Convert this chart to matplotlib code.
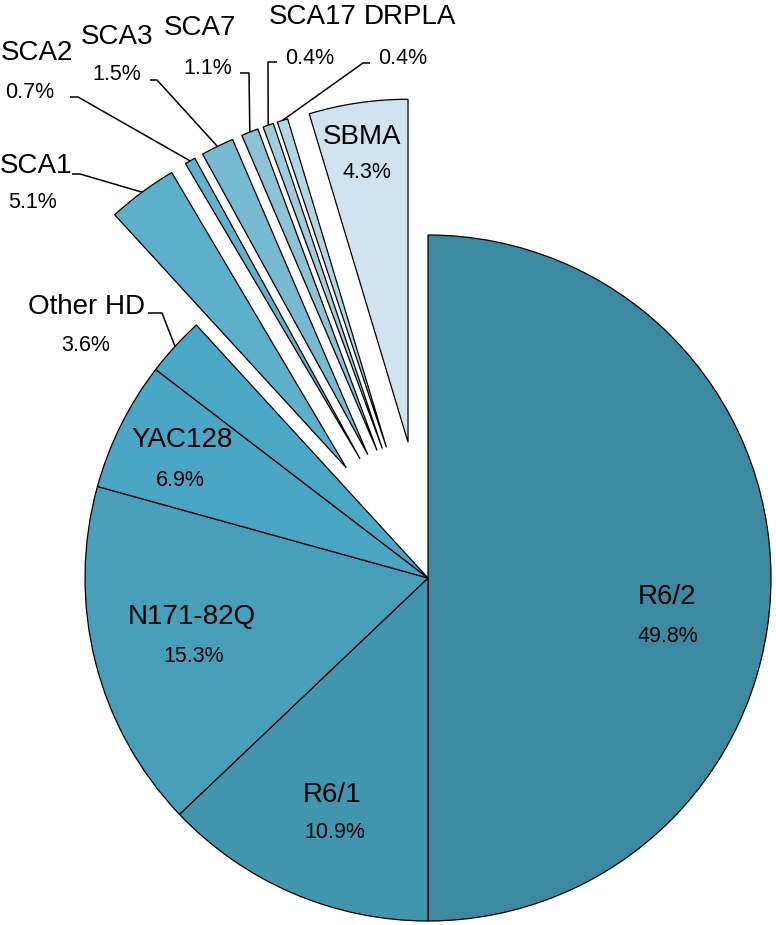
import matplotlib
matplotlib.use("Agg")
import matplotlib.pyplot as plt
import numpy as np

plt.rcParams['font.family'] = ['Liberation Sans', 'DejaVu Sans']

# Data: model names, the percentages printed on the chart, and the wedge
# sizes as they are actually drawn in the picture (arc share, in %)
models = ["R6/2", "R6/1", "N171-82Q", "YAC128", "Other HD",
          "SCA1", "SCA2", "SCA3", "SCA7", "SCA17", "DRPLA", "SBMA"]
pct_labels = [49.8, 10.9, 15.3, 6.9, 3.6, 5.1, 0.7, 1.5, 1.1, 0.4, 0.4, 4.3]
arc_share = [50.0, 12.9, 16.4, 6.1, 2.8, 3.3, 0.5, 1.55, 0.8, 0.5, 0.5, 4.65]

# Style
colors = ["#3d89a1", "#4196ad", "#479fba", "#4aa6c4", "#4aa7c6",
          "#5db0cc", "#63b1cc", "#78bad2", "#8cc3d7", "#9fcddd", "#b2d7e4", "#cfe4ee"]
explode = [0, 0, 0, 0, 0, 0.4, 0.4, 0.4, 0.4, 0.4, 0.4, 0.4]

# Pixel layout (figure 776x925, pie center and radius in px)
W, H = 776, 925
cx, cy, R = 428, 578, 343


def px(x, y):
    # pixel position -> data units (radius = 1)
    return ((x - cx) / R, (cy - y) / R)


fig = plt.figure(figsize=(W / 100, H / 100), dpi=100)
ax = fig.add_axes([0, 0, 1, 1])

wedges, _ = ax.pie(arc_share, explode=explode, colors=colors, startangle=90,
                   counterclock=False,
                   wedgeprops=dict(edgecolor="black", linewidth=0.9))

ax.set_xlim(-cx / R, (W - cx) / R)
ax.set_ylim(-(H - cy) / R, cy / R)
ax.set_aspect("equal")
ax.axis("off")

name_size = 20
pct_size = 15.5

# Labels inside the wedges: index, name position, pct position (px)
inside = [
    (0, (667, 597), (668, 637)),
    (1, (332, 795), (335, 833)),
    (2, (192, 617), (194, 656)),
    (3, (182, 440), (180, 480)),
    (11, (362, 137), (367, 173)),
]

# Labels outside with leader lines: index, name, pct, line start, elbow (px)
outside = [
    (4, (87, 307), (86, 345), (148, 313), (162, 313)),
    (5, (36, 166), (33, 203), (72, 174), (80, 174)),
    (6, (37, 53), (30, 92), (70, 97), (78, 97)),
    (7, (117, 37), (117, 75), (150, 80), (157, 80)),
    (8, (200, 28), (208, 68), (240, 73), (249, 73)),
    (9, (313, 17), (310, 58), (277, 62), (268, 62)),
    (10, (410, 17), (403, 58), (370, 63), (363, 63)),
]

for i, name_xy, pct_xy in inside:
    ax.text(*px(*name_xy), models[i], fontsize=name_size, ha="center", va="center")
    ax.text(*px(*pct_xy), f"{pct_labels[i]}%", fontsize=pct_size, ha="center", va="center")

for i, name_xy, pct_xy, start, elbow in outside:
    ax.text(*px(*name_xy), models[i], fontsize=name_size, ha="center", va="center")
    ax.text(*px(*pct_xy), f"{pct_labels[i]}%", fontsize=pct_size, ha="center", va="center")
    w = wedges[i]
    mid = np.deg2rad((w.theta1 + w.theta2) / 2)
    end = (w.center[0] + w.r * np.cos(mid), w.center[1] + w.r * np.sin(mid))
    p0, p1 = px(*start), px(*elbow)
    ax.plot([p0[0], p1[0], end[0]], [p0[1], p1[1], end[1]],
            color="black", linewidth=1.1, solid_capstyle="butt")

fig.savefig("out.png", dpi=100)
